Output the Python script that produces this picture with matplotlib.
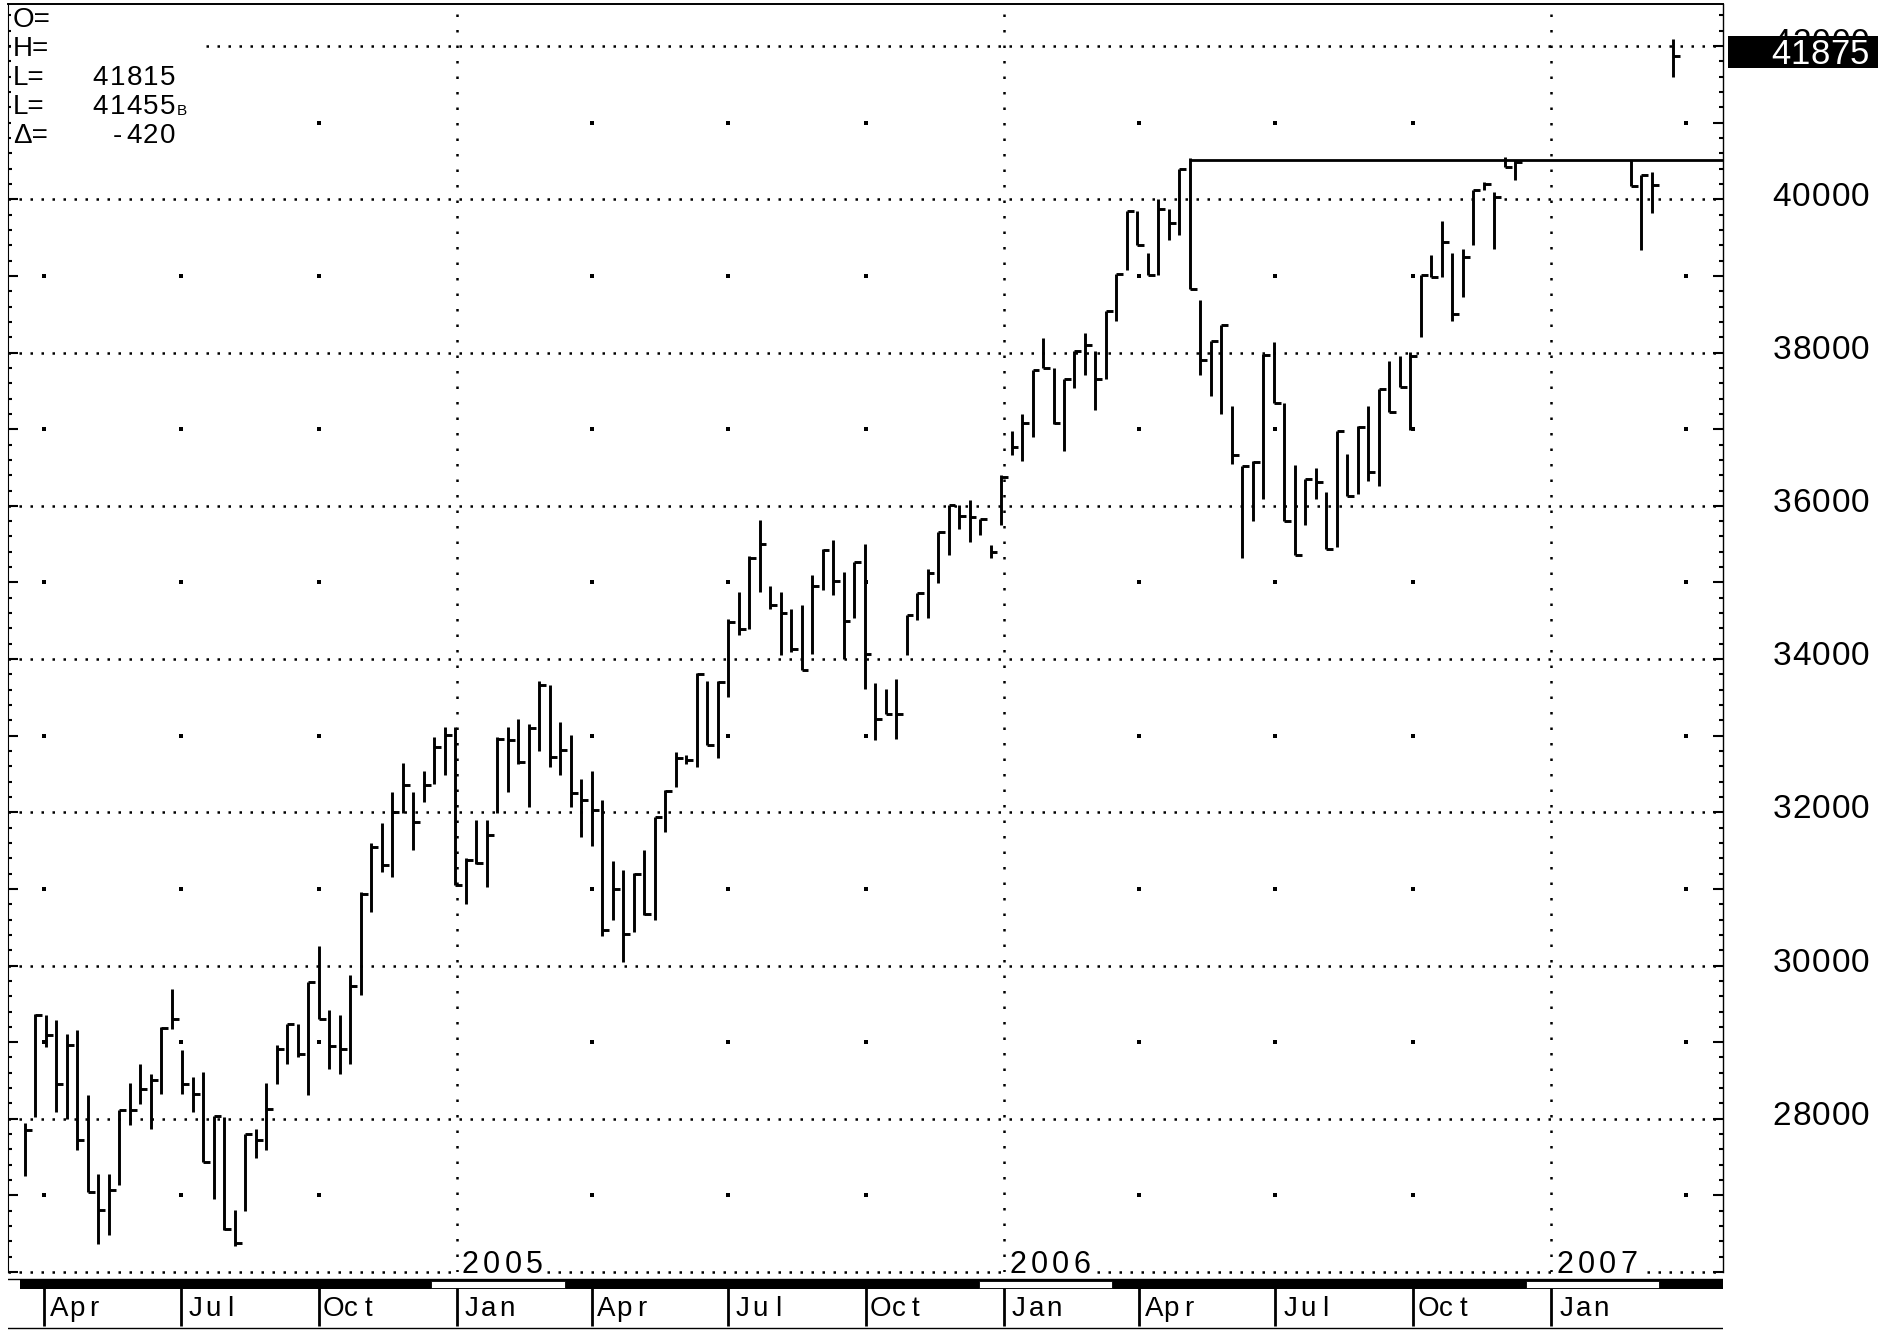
import numpy as np
import pandas as pd
import matplotlib
matplotlib.use("Agg")
import matplotlib.pyplot as plt
import matplotlib.dates as mdates
from matplotlib.patches import Rectangle
from matplotlib.ticker import MultipleLocator

plt.rcParams['font.family'] = ['Liberation Sans', 'DejaVu Sans']

# weekly bars, first week ending 2004-03-19 (nan = no bar that week)
FIRST_WEEK = "2004-03-19"
nan = np.nan

highs = [27944, 29371, 29350, 29284, 29110, 29154, 28305, 27282, 27282, 28109,
         28466, 28718, 28579, 29197, 29697, 28892, 28544, 28610, 28035, 28022,
         26803, 27804, 27861, 28466, 28958, 29241, 29241, 29785, 30250, 29415,
         29350, 29872, 30959, 31599, 31860, 32265, 32643, 32265, 32539, 32983,
         33114, 33114, 31408, 31904, 31895, 32983, 33114, 33222, 33157, 33714,
         33657, 33179, 33005, 32439, 32539, 32165, 31364, 31242, 31207, 31503,
         31938, 32287, 32787, 32744, 33818, 33710, 33710, 34520, 34880, 35342,
         35816, 34950, 34870, 34650, 34700, 35100, 35443, 35551, 35138, 35269,
         35508, 33693, 33615, 33737, 34572, 34868, 35173, 35660, 36008, 36017,
         36074, 35834, 35486, 36409, 36983, 37201, 37767, 38189, 37797, 37658,
         38015, 38259, 38015, 38537, 39029, 39843, 39843, 39303, 39999, 39869,
         40400, 40539, 38681, 38150, 38355, 37305, 36524, 36589, 37982, 38143,
         37342, 36533, 36350, 36489, 36185, 36981, 36676, 37038, 37299, 37525,
         37895, 37960, 38004, 39007, 39268, 39712, 39303, 39347, 40117, 40226,
         40098, 40555, 40511, nan, nan, nan, nan, nan, nan, nan,
         nan, nan, nan, 40511, 40315, 40359, nan, 42087]

lows = [27247, 28022, 28936, 28087, 28000, 27587, 27043, 26368, 26477, 27130,
        27913, 28196, 27870, 28327, 29175, 28327, 28087, 27435, 26956, 26542,
        26334, 26795, 27491, 27596, 28449, 28718, 28805, 28305, 29306, 28653,
        28588, 28718, 29611, 30698, 31220, 31155, 31991, 31503, 32134, 32374,
        32483, 31046, 30807, 31329, 31025, 31991, 32265, 32635, 32069, 32800,
        32591, 32483, 32069, 31677, 31556, 30381, 30590, 30046, 30437, 30655,
        30590, 31742, 32330, 32626, 32591, 32874, 32713, 33505, 34310, 34397,
        34871, 34650, 34050, 34093, 33862, 34071, 34899, 34833, 34007, 34537,
        33606, 32940, 33288, 32962, 34050, 34507, 34537, 34999, 35356, 35704,
        35530, 35625, 35321, 35747, 36657, 36579, 36896, 37797, 37071, 36722,
        37536, 37702, 37245, 37650, 38407, 39072, 39399, 39016, 39016, 39464,
        39529, 38833, 37702, 37435, 37205, 36550, 35314, 35806, 36089, 37342,
        35806, 35358, 35749, 36089, 35436, 35458, 36132, 36154, 36328, 36263,
        37220, 37547, 36994, 38200, 38985, 38985, 38417, 38724, 39407, 40117,
        39358, 40424, 40259, nan, nan, nan, nan, nan, nan, nan,
        nan, nan, nan, 40172, 39345, 39824, nan, 41599]

closes = [27848, 29350, 29088, 28457, 28958, 27717, 27043, 26803, 27064, 28109,
          28109, 28392, 28501, 29188, 29297, 28457, 28318, 27435, 28035, 26564,
          26377, 27796, 27717, 28131, 28914, 29232, 28840, 29785, 29306, 28945,
          28914, 29728, 30937, 31547, 31307, 32004, 32361, 31873, 32352, 32852,
          33005, 31046, 31381, 31338, 31699, 32961, 32939, 32657, 33105, 33657,
          32722, 32809, 32252, 32156, 32026, 30459, 31003, 30407, 31198, 30668,
          31938, 32278, 32713, 32687, 33810, 32874, 33701, 34490, 34397, 35320,
          35500, 34700, 34600, 34136, 33862, 34950, 35430, 35016, 34494, 35269,
          34072, 33223, 33288, 33288, 34572, 34868, 35129, 35660, 36008, 35865,
          35856, 35834, 35400, 36378, 36766, 37084, 37767, 37797, 37084, 37658,
          38015, 38102, 37650, 38537, 39029, 39843, 39407, 39016, 39869, 39690,
          40400, 38833, 37897, 38146, 38355, 36670, 36524, 36568, 37969, 37342,
          35806, 35358, 36350, 36315, 35436, 36981, 36132, 37024, 36446, 37525,
          37220, 37547, 37960, 39007, 38985, 39442, 38504, 39247, 40117, 40207,
          40032, 40424, 40490, nan, nan, nan, nan, nan, nan, nan,
          nan, nan, nan, 40172, 40315, 40185, nan, 41875]

RESIST = 40520
RESIST_FROM = "2006-05-05"
LAST = "41875"
info_labels = ["O=", "H=", "L=", "L=", "\u0394="]
info_values = ["", "", "41815", "41455", "-420"]
y_labels = [28000, 30000, 32000, 34000, 36000, 38000, 40000, 42000]
month_names = {1: "Jan", 4: "Apr", 7: "Jul", 10: "Oct"}

weeks = pd.date_range(FIRST_WEEK, periods=len(highs), freq="7D")
df = pd.DataFrame({"H": highs, "L": lows, "C": closes}, index=weeks).dropna()

W, Hpx = 1895, 1331
fx = lambda px: px / W
fy = lambda py: 1 - py / Hpx

# pixel scales of the chart
x_jan05 = mdates.date2num(pd.Timestamp("2005-01-01"))
ppd = 1.4995
d_at = lambda px: x_jan05 + (px - 456.7) / ppd
px_of_date = lambda d: 456.7 + (mdates.date2num(d) - x_jan05) * ppd
py_of_val = lambda v: 46 + (42000 - v) / 13.055

fig = plt.figure(figsize=(W / 100, Hpx / 100), dpi=100)


def ptext(x, y, s, size, cell=None, ha="left", color="k", z=4):
    # text placed in figure pixels, baseline at y; optional fixed cell width per char
    if cell is None:
        fig.text(fx(x), fy(y), s, fontsize=size, ha=ha, va="baseline", color=color, zorder=z)
        return
    start = x if ha == "left" else x - cell * len(s)
    for i, ch in enumerate(s):
        fig.text(fx(start + cell * (i + 0.5)), fy(y), ch, fontsize=size, ha="center",
                 va="baseline", color=color, zorder=z)


ax = fig.add_axes([fx(8), fy(1272), fx(1723) - fx(8), fy(4) - fy(1272)])
ax.set_xlim(d_at(8), d_at(1723))
ax.set_ylim(26000, 42550)

# grid
for v in range(26000, 42001, 2000):
    ax.axhline(v, color="k", lw=1.8, ls=(0, (1, 3.4)), zorder=1, clip_on=False)
years = [pd.Timestamp(f"{y}-01-01") for y in (2005, 2006, 2007)]
for d in years:
    ax.axvline(mdates.date2num(d), color="k", lw=1.8, ls=(0, (1, 5.2)), zorder=1)
qdates = [d for d in pd.date_range("2004-01-01", "2007-12-31", freq="QS")
          if d.month != 1 and d_at(8) < mdates.date2num(d) < d_at(1723)]
gx, gy = np.meshgrid(mdates.date2num(qdates), np.arange(27000, 41001, 2000))
ax.scatter(gx.ravel(), gy.ravel(), s=6, marker="s", color="k", lw=0, zorder=1)

# bars (high-low with close tick)
xd = mdates.date2num(df.index)
ax.vlines(xd, df["L"], df["H"], color="k", lw=2.1, zorder=3)
ax.hlines(df["C"], xd, xd + 4.6, color="k", lw=2.1, zorder=3)

# resistance line
ax.hlines(RESIST, mdates.date2num(pd.Timestamp(RESIST_FROM)), d_at(1723),
          color="k", lw=2.0, zorder=3)

# spines and ticks
ax.spines["bottom"].set_visible(False)
ax.spines["top"].set_linewidth(1.4)
ax.spines["left"].set_linewidth(0.8)
ax.spines["right"].set_linewidth(1.0)
ax.yaxis.set_major_locator(MultipleLocator(1000))
ax.yaxis.set_minor_locator(MultipleLocator(200))
ax.tick_params(axis="y", which="both", direction="in", left=True, right=True,
               labelleft=False, labelright=False, width=1.5)
ax.tick_params(axis="y", which="major", length=7)
ax.tick_params(axis="y", which="minor", length=3)
ax.set_xticks([])

# right price labels (42000 sits under the last-price box, as in the source)
for v in y_labels:
    ptext(1870, py_of_val(v) + 6.5, str(v), 24, cell=19.6, ha="right", z=1)

# last price box
fig.add_artist(Rectangle((fx(1728), fy(68)), fx(1878) - fx(1728), fy(36) - fy(68),
                         transform=fig.transFigure, fc="black", ec="none", zorder=5))
ptext(1869, 64, LAST, 25, cell=19.6, ha="right", color="white", z=6)

# year labels on white patches
for d in years:
    x = px_of_date(d) + 3
    fig.add_artist(Rectangle((fx(x - 1), fy(1275)), fx(88), fy(1250) - fy(1275),
                             transform=fig.transFigure, fc="white", ec="none", zorder=2))
    ptext(x, 1273, str(d.year), 22, cell=21.3)

# info block top left
fig.add_artist(Rectangle((fx(11), fy(150)), fx(198) - fx(11), fy(6) - fy(150),
                         transform=fig.transFigure, fc="white", ec="none", zorder=2))
for i, (lab, val) in enumerate(zip(info_labels, info_values)):
    yb = 27 + i * 29
    ptext(13, yb, lab, 20)
    if val:
        ptext(176, yb, val, 20, cell=16.8, ha="right")
ptext(177, 115, "B", 11)

# lower band with month labels
bax = fig.add_axes([fx(8), 0, fx(1723) - fx(8), fy(1276)])
bax.set_xlim(ax.get_xlim())
bax.set_ylim(1331, 1276)
bax.axis("off")
bax.axhline(1278.5, color="k", lw=1.0)
bax.add_patch(Rectangle((d_at(20), 1279.5), d_at(1723) - d_at(20), 9.5, fc="black", ec="none"))
for y in (2004, 2005, 2006):
    a = mdates.date2num(pd.Timestamp(f"{y}-12-15"))
    b = mdates.date2num(pd.Timestamp(f"{y + 1}-03-14"))
    bax.add_patch(Rectangle((a, 1281), b - a, 6.5, fc="white", ec="black", lw=0.6))
mdts = list(pd.date_range("2004-04-01", "2007-01-01", freq="QS"))
bax.vlines(mdates.date2num(mdts), 1288, 1326, color="k", lw=2.0)
for d in mdts:
    ptext(px_of_date(d) + 6, 1316, month_names[d.month], 20, cell=17.5)
bax.axhline(1328, color="k", lw=1.0)

fig.savefig("out.png", dpi=100)
